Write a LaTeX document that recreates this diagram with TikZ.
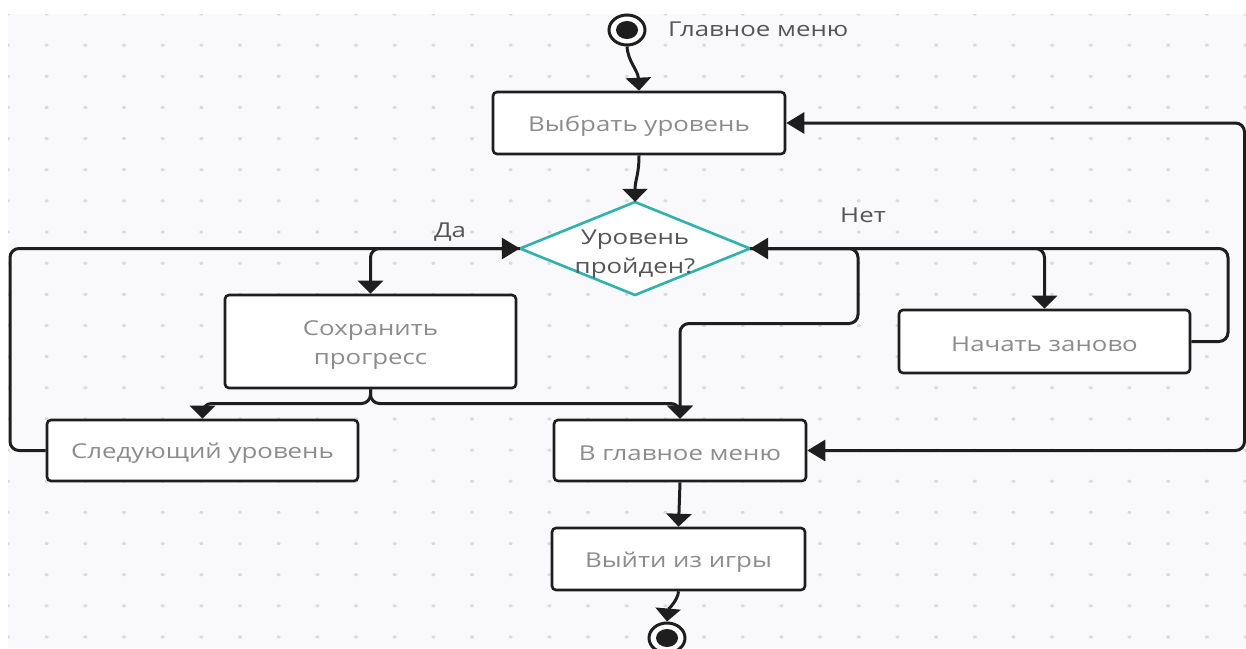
\documentclass[tikz,border=0pt]{standalone}
\usepackage{fontspec}
\setmainfont{Open Sans}[FakeStretch=1.26]
\usetikzlibrary{arrows.meta,shapes.geometric}
\definecolor{bgc}{HTML}{F9F9FB}
\definecolor{dotc}{HTML}{DADADD}
\definecolor{linec}{HTML}{1E1E1E}
\definecolor{boxtxt}{HTML}{8C8C8C}
\definecolor{darktxt}{HTML}{555555}
\definecolor{tealc}{HTML}{2DB2AE}
\tikzset{
  stepbox/.style={draw=linec, line width=2.6pt, rounded corners=4pt, fill=white,
    text=boxtxt, align=center, inner sep=0pt, font=\fontsize{20.5}{29}\selectfont,
    execute at begin node={\rule{0pt}{21pt}}},
  multitext/.style={inner sep=0pt, align=center, font=\fontsize{20.5}{29}\selectfont},
  decision/.style={draw=none, inner sep=0pt},
  decisionshape/.style={draw=tealc, line width=2.6pt, fill=white, line join=miter},
  pseudo/.style={ellipse, draw=linec, line width=3pt, fill=white, inner sep=0pt,
    minimum width=36pt, minimum height=30pt},
  lbl/.style={text=darktxt, inner sep=0pt, font=\fontsize{20.5}{29}\selectfont},
  conn/.style={draw=linec, line width=3pt, rounded corners=9pt},
  varr/.style={conn, -{Triangle[width=25pt,length=13pt]}},
  harr/.style={conn, -{Triangle[width=21pt,length=18pt]}},
  harrboth/.style={conn, {Triangle[width=21pt,length=18pt]}-{Triangle[width=21pt,length=18pt]}},
}
\begin{document}
\begin{tikzpicture}[x=1pt,y=-1pt]
\useasboundingbox (0,0) rectangle (1246,648);
\fill[white] (0,0) rectangle (1246,648);
\fill[bgc] (8,14) rectangle (1246,648);
\begin{scope}
\clip (8,14) rectangle (1246,648);
\foreach \i in {0,...,32}{
  \foreach \j in {0,...,20}{
    \fill[dotc] ({8+\i*38.67},{14+\j*31.15}) ellipse [x radius=2, y radius=1.6];
  }
}
\end{scope}

% nodes
\node[pseudo] (start) at (627,30) {};
\fill[linec] (start.center) ellipse [x radius=11, y radius=9];
\node[lbl, anchor=west] (startlbl) at (668,29) {Главное меню};

\node[stepbox, minimum width=292pt, minimum height=62pt] (b1) at (639,123) {Выбрать уровень};
\path[decisionshape] (635,202) -- (750,248.5) -- (635,295) -- (520,248.5) -- cycle;
\node[decision, minimum width=230pt, minimum height=93pt] (dia) at (635,248.5) {};
\node[multitext, text=darktxt, yshift=-5.5pt] (diatext) at (dia.center) {Уровень\\пройден?};
\node[stepbox, minimum width=291pt, minimum height=93pt] (save) at (370.5,341.5) {};
\node[multitext, text=boxtxt, yshift=-4pt] (savetext) at (save.center) {Сохранить\\прогресс};
\node[stepbox, minimum width=311pt, minimum height=61pt] (next) at (202.5,450.5) {Следующий уровень};
\node[stepbox, minimum width=252pt, minimum height=61pt] (mm) at (680,450.5) {В главное меню};
\node[stepbox, minimum width=291pt, minimum height=63pt] (restart) at (1044.5,341.5) {Начать заново};
\node[stepbox, minimum width=253pt, minimum height=62pt] (exit) at (678.5,559) {Выйти из игры};
\node[pseudo] (end) at (667,638) {};
\fill[linec] (end.center) ellipse [x radius=11, y radius=9];

\node[lbl] (yes) at (450,232) {Да};
\node[lbl] (no) at (863,215) {Нет};

% connectors
\draw[varr] (start.south) .. controls (628,62) and (638,70) .. (b1.north);
\draw[varr] (b1.south) .. controls (639,175) and (635,180) .. (dia.north);

\draw[harr] (next.west) -- (10,450.5) -- (10,248.5) -- (dia.west);
\draw[varr] (dia.west) -| (save.north);

\draw[varr] (save.south) -- (370.5,403.5) -| (next.north);
\draw[varr] (save.south) -- (370.5,403.5) -| (mm.north);

\draw[varr] (dia.east) -- (858,248.5) -- (858,323.5) -- (680,323.5) -- (mm.north);
\draw[varr] (dia.east) -| (restart.north);
\draw[harr] (restart.east) -- (1228,341.5) -- (1228,248.5) -- (dia.east);

\draw[harrboth] (mm.east) -- (1244.5,450.5) -- (1244.5,123) -- (b1.east);

\draw[varr] (mm.south) -- (exit.north);
\draw[varr] (exit.south) .. controls (678,600) and (668,610) .. (end.north);
\end{tikzpicture}
\end{document}
